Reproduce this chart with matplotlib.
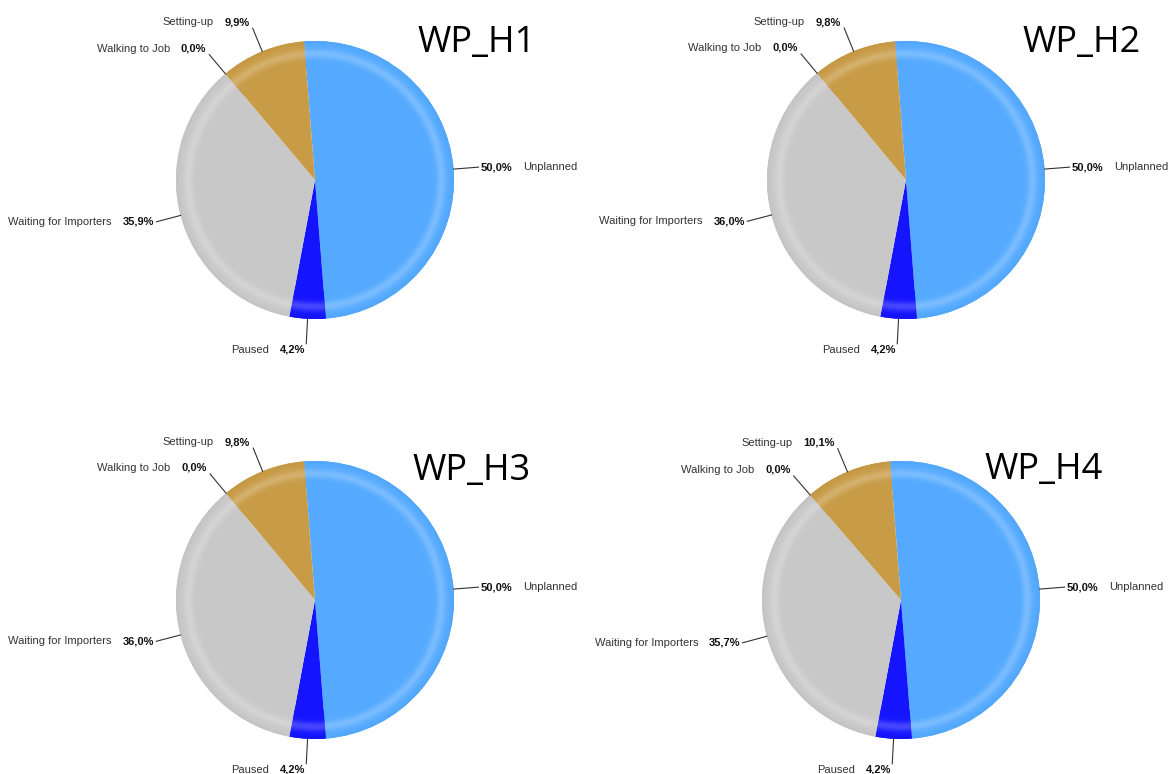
import matplotlib
matplotlib.use('Agg')
import matplotlib.pyplot as plt
import numpy as np
from matplotlib.offsetbox import TextArea, HPacker, AnnotationBbox
from matplotlib.colors import to_rgb

# slice data per workplace, in drawing order (clockwise from the top)
categories = ['Unplanned', 'Paused', 'Waiting for Importers', 'Walking to Job', 'Setting-up']
titles = ['WP_H1', 'WP_H2', 'WP_H3', 'WP_H4']
wp_h1 = [50.0, 4.2, 35.9, 0.0, 9.9]
wp_h2 = [50.0, 4.2, 36.0, 0.0, 9.8]
wp_h3 = [50.0, 4.2, 36.0, 0.0, 9.8]
wp_h4 = [50.0, 4.2, 35.7, 0.0, 10.1]
series = [wp_h1, wp_h2, wp_h3, wp_h4]

colors = ['#55aaff', '#1414ff', '#c8c8c8', '#c8c8c8', '#c89b46']

W, H = 1171, 774
R = 139
START = 94.5
# pie centres and title anchors in pixel coords (y from top)
centers = [(315, 180), (906, 180), (315, 600), (901, 600)]
title_pos = [(417, 52), (1022, 52), (412, 480), (984, 479)]


def blend(c, t):
    # t > 0 lightens towards white, t < 0 darkens
    c = np.array(to_rgb(c))
    if t >= 0:
        return tuple(c + (1 - c) * t)
    return tuple(c * (1 + t))


def fmt(v):
    return ('%.1f%%' % v).replace('.', ',')


fig = plt.figure(figsize=(W / 100, H / 100), dpi=100)
ax = fig.add_axes([0, 0, 1, 1])

for vals, (cx, cy), title, (tx, ty) in zip(series, centers, titles, title_pos):
    c = (cx, H - cy)
    wedges, _ = ax.pie(vals, colors=colors, center=c, radius=R, startangle=START,
                       counterclock=False, wedgeprops=dict(linewidth=0))

    # soft rim highlight a little inside the outer edge
    edges = np.linspace(0.80, 1.0, 30)
    for r0, r1 in zip(edges[:-1], edges[1:]):
        rm = (r0 + r1) / 2
        t = 0.22 * np.exp(-((rm - 0.915) / 0.034) ** 2)
        if rm > 0.985:
            t -= 0.02
        ring_cols = [blend(col, t) for col in colors]
        ax.pie(vals, colors=ring_cols, center=c, radius=R * r1, startangle=START,
               counterclock=False,
               wedgeprops=dict(width=R * (r1 - r0) + 0.6, linewidth=0))

    for w, name, v in zip(wedges, categories, vals):
        ang = np.deg2rad((w.theta1 + w.theta2) / 2)
        dx, dy = np.cos(ang), np.sin(ang)
        p0 = (c[0] + R * dx, c[1] + R * dy)
        p1 = (c[0] + (R + 25) * dx, c[1] + (R + 25) * dy)
        ax.plot([p0[0], p1[0]], [p0[1], p1[1]], color='#333333', lw=0.8)

        lab = TextArea(name, textprops=dict(fontsize=8, color='#333333',
                                            family='Liberation Sans'))
        pct = TextArea(fmt(v), textprops=dict(fontsize=8, color='#111111',
                                              fontweight='bold', family='Liberation Sans'))
        if dx >= 0.3:
            box = HPacker(children=[pct, lab], align='baseline', pad=0, sep=8)
            xy, align = (p1[0] + 2, p1[1]), (0, 0.5)
        elif dy < -0.9:
            box = HPacker(children=[lab, pct], align='baseline', pad=0, sep=8)
            xy, align = (p1[0] - 1, p1[1] - 1), (1, 1)
        elif dy > 0.6:
            box = HPacker(children=[lab, pct], align='baseline', pad=0, sep=8)
            xy, align = (p1[0] - 3, p1[1] + 1), (1, 0)
        else:
            box = HPacker(children=[lab, pct], align='baseline', pad=0, sep=8)
            xy, align = (p1[0] - 2, p1[1]), (1, 0.5)
        ab = AnnotationBbox(box, xy, xycoords='data', box_alignment=align,
                            frameon=False, pad=0)
        ax.add_artist(ab)

    ax.text(tx, H - ty, title, fontsize=26, family='Open Sans',
            ha='left', va='baseline', color='black')

ax.set_xlim(0, W)
ax.set_ylim(0, H)
ax.set_aspect('auto')
ax.axis('off')

fig.savefig('out.png', dpi=100, facecolor='white')
plt.close(fig)
